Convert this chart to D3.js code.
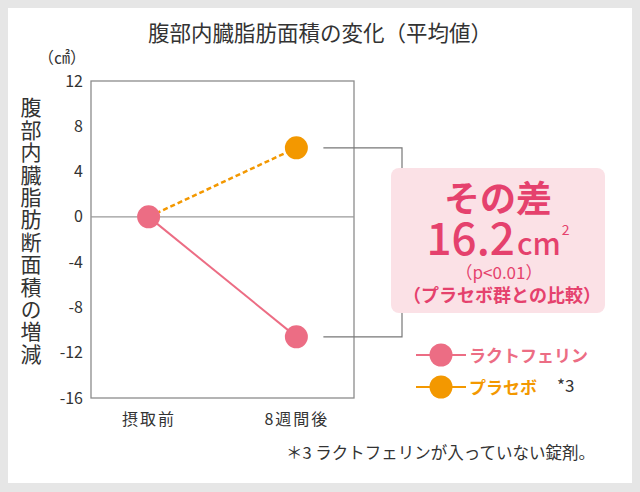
<!DOCTYPE html>
<html><head><meta charset="utf-8">
<script src="https://cdn.jsdelivr.net/npm/d3@7"></script>
<style>
html,body{margin:0;padding:0;background:#e6e6e6;}
svg{display:block;}
text{font-family:"Noto Sans CJK JP","Noto Sans",sans-serif;}
</style></head>
<body>
<script>
const categories = ["摂取前", "8週間後"];
const lactoferrin = [0, -10.6];
const placebo = [0, 6.1];
const yTicks = [12, 8, 4, 0, -4, -8, -12, -16];
const seriesNames = ["ラクトフェリン", "プラセボ"];
const title = "腹部内臓脂肪面積の変化（平均値）";
const yTitle = "腹部内臓脂肪断面積の増減";
const footnote = "＊3 ラクトフェリンが入っていない錠剤。";

const W = 640, H = 492;
const pink = "#ec6d84", orange = "#f39800", boxText = "#e5416d", dark = "#333";

const svg = d3.select("body").append("svg").attr("width", W).attr("height", H);
svg.append("rect").attr("width", W).attr("height", H).attr("fill", "#e6e6e6");
svg.append("rect").attr("x", 8).attr("y", 8).attr("width", 624).attr("height", 475).attr("fill", "#fff");

const plot = {left: 91, right: 354, top: 81, bottom: 398};
const x = d3.scalePoint().domain(categories).range([plot.left, plot.right]).padding(0.39);
const y = d3.scaleLinear().domain([-16, 12]).range([plot.bottom, plot.top]);

// title
svg.append("text").attr("x", 320).attr("y", 41).attr("text-anchor", "middle")
  .attr("font-size", 21.5).attr("fill", dark).text(title);
// unit
svg.append("text").attr("x", 38).attr("y", 63).attr("font-size", 16).attr("fill", dark).text("（㎠）");

// frame
svg.append("rect").attr("x", plot.left).attr("y", plot.top).attr("width", plot.right - plot.left)
  .attr("height", plot.bottom - plot.top).attr("fill", "none").attr("stroke", "#8c8c8c").attr("stroke-width", 1.3);
// zero line
svg.append("line").attr("x1", plot.left).attr("x2", plot.right).attr("y1", y(0)).attr("y2", y(0))
  .attr("stroke", "#9a9a9a").attr("stroke-width", 1.2);

// y axis
const yAxis = d3.axisLeft(y).tickValues(yTicks).tickSize(0).tickPadding(8).tickFormat(d => String(d));
const ga = svg.append("g").attr("transform", `translate(${plot.left},0)`).call(yAxis);
ga.select(".domain").remove();
ga.selectAll("text").attr("font-family", "Roboto, sans-serif").attr("font-size", 16).attr("fill", dark);

// x axis
const xAxis = d3.axisBottom(x).tickSize(0).tickPadding(16);
const gx = svg.append("g").attr("transform", `translate(0,${plot.bottom})`).call(xAxis);
gx.select(".domain").remove();
gx.selectAll("text").attr("font-size", 16).attr("fill", dark).attr("letter-spacing", 2)
  .attr("font-family", "'Noto Sans CJK JP', sans-serif");

// y title vertical
svg.append("text").attr("x", 31).attr("y", 97).attr("font-size", 21).attr("fill", dark)
  .style("writing-mode", "vertical-rl").attr("letter-spacing", 1.4).text(yTitle);

// bracket
const xEnd = x(categories[1]);
svg.append("path").attr("d", `M${xEnd + 27},${y(placebo[1])}H402V${y(lactoferrin[1])}H${xEnd + 27}`)
  .attr("fill", "none").attr("stroke", "#777").attr("stroke-width", 1.2);

// lines
const line = d3.line().x((d, i) => x(categories[i])).y(d => y(d));
svg.append("path").attr("d", line(placebo)).attr("fill", "none").attr("stroke", orange)
  .attr("stroke-width", 2.5).attr("stroke-dasharray", "5,3");
svg.append("path").attr("d", line(lactoferrin)).attr("fill", "none").attr("stroke", pink).attr("stroke-width", 2);

// points
svg.append("g").selectAll("circle").data(placebo.slice(1)).join("circle")
  .attr("cx", x(categories[1])).attr("cy", d => y(d)).attr("r", 11.5).attr("fill", orange);
svg.append("g").selectAll("circle").data(lactoferrin).join("circle")
  .attr("cx", (d, i) => x(categories[i])).attr("cy", d => y(d)).attr("r", 11.5).attr("fill", pink);

// annotation box
svg.append("rect").attr("x", 391).attr("y", 168).attr("width", 214).attr("height", 145).attr("rx", 8)
  .attr("fill", "#fbe1e6");
svg.append("text").attr("x", 498).attr("y", 212).attr("text-anchor", "middle").attr("font-size", 36)
  .attr("font-weight", "bold").attr("fill", boxText).text("その差");
const t2 = svg.append("text").attr("x", 498).attr("y", 255).attr("text-anchor", "middle").attr("fill", boxText)
  .attr("font-family", "Roboto, sans-serif");
t2.append("tspan").attr("font-size", 44).attr("font-weight", 500).text("16.2");
t2.append("tspan").attr("font-size", 30).attr("font-weight", 500).attr("dx", 2).text("cm");
t2.append("tspan").attr("font-size", 14).attr("dy", -20).attr("dx", 1).text("2");
svg.append("text").attr("x", 499).attr("y", 279).attr("text-anchor", "middle").attr("font-size", 17)
  .attr("fill", boxText).text("（p<0.01）");
svg.append("text").attr("x", 502).attr("y", 302).attr("text-anchor", "middle").attr("font-size", 18)
  .attr("font-weight", "bold").attr("fill", boxText).text("（プラセボ群との比較）");

// legend
const legend = [{name: seriesNames[0], color: pink, y: 355}, {name: seriesNames[1], color: orange, y: 387}];
const lg = svg.append("g").selectAll("g").data(legend).join("g");
lg.append("line").attr("x1", 416).attr("x2", 466).attr("y1", d => d.y).attr("y2", d => d.y)
  .attr("stroke", d => d.color).attr("stroke-width", 2);
lg.append("circle").attr("cx", 441).attr("cy", d => d.y).attr("r", 11.5).attr("fill", d => d.color);
lg.append("text").attr("x", 469).attr("y", d => d.y + 6.5).attr("font-size", 17).attr("font-weight", "bold")
  .attr("fill", d => d.color).text(d => d.name);
svg.append("text").attr("x", 557).attr("y", 392).attr("font-size", 17).attr("fill", dark)
  .attr("font-family", "Roboto, sans-serif").text("*3");

// footnote
svg.append("text").attr("x", 286).attr("y", 459).attr("font-size", 16.5).attr("fill", dark).text(footnote);
</script>
</body></html>
